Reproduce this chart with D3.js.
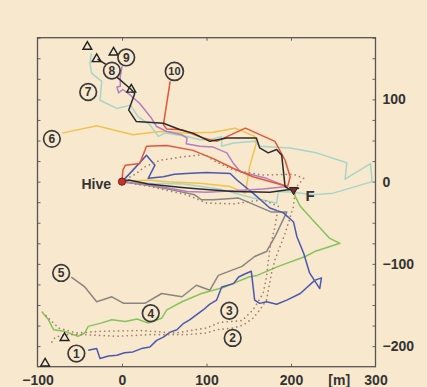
<!DOCTYPE html>
<html>
<head>
<meta charset="utf-8">
<script src="https://cdn.jsdelivr.net/npm/d3@7"></script>
<style>
  html, body { margin: 0; padding: 0; background: #f8e8cd; }
  svg { display: block; }
  text { font-family: "Liberation Sans", Arial, sans-serif; fill: #333; }
</style>
</head>
<body>
<svg id="chart" width="427" height="387"></svg>
<script>
// Flight tracks (metres east / north of the hive)
const track1 = [[0,0],[13,14],[29,32],[39,20],[31,4],[49,6],[62,9],[76,10],[100,11],[128,10],[136,2],[155,-14],[175,-32],[191,-38],[203,-49],[207,-67],[215,-87],[222,-111],[234,-130],[236,-117],[228,-120],[211,-136],[195,-144],[183,-149],[171,-146],[163,-148],[157,-144],[153,-109],[146,-112],[138,-116],[132,-124],[118,-128],[112,-144],[104,-149],[96,-156],[88,-162],[80,-168],[72,-173],[65,-180],[57,-183],[49,-189],[41,-193],[33,-201],[23,-203],[13,-207],[3,-208],[-6,-211],[-16,-212],[-26,-215],[-30,-203],[-40,-205]];
const track2 = [[0,0],[17,10],[27,18],[45,26],[71,30],[98,33],[108,26],[132,14],[167,8],[203,9],[215,4],[205,-8],[203,-30],[193,-63],[181,-95],[177,-111],[171,-144],[163,-156],[155,-166],[144,-174],[132,-178],[112,-180],[100,-184],[77,-186],[33,-186],[-6,-188],[-46,-186],[-66,-186],[-79,-189],[-83,-195]];
const track3 = [[0,0],[33,-6],[77,-16],[100,-26],[132,-27],[167,-22],[185,-30],[181,-55],[175,-81],[171,-116],[167,-136],[155,-156],[142,-169],[116,-171],[100,-178],[63,-184],[21,-181],[-26,-182],[-54,-184],[-75,-178],[-85,-168],[-93,-160]];
const track4 = [[-95,-158],[-87,-168],[-81,-180],[-68,-182],[-52,-188],[-44,-184],[-40,-176],[-25,-172],[-12,-168],[4,-170],[18,-167],[31,-172],[47,-166],[53,-156],[71,-146],[94,-136],[122,-128],[150,-116],[160,-114],[185,-103],[217,-91],[228,-85],[258,-75],[246,-69],[226,-47],[211,-30],[205,-18],[203,-12]];
const track5 = [[0,0],[29,-4],[59,-10],[86,-16],[94,-22],[108,-22],[138,-20],[177,-37],[195,-37],[181,-67],[171,-85],[157,-91],[142,-103],[114,-114],[104,-132],[88,-126],[71,-140],[47,-136],[27,-148],[2,-148],[-12,-140],[-30,-146],[-44,-128],[-60,-116]];
const track6 = [[-71,59],[-30,68],[13,57],[45,61],[77,59],[108,60],[134,65],[157,55],[159,47],[151,18],[146,-14],[128,-6],[92,-2],[53,0],[31,2],[0,0]];
const track7 = [[-36,156],[-38,144],[-36,132],[-24,122],[-26,99],[-6,89],[10,93],[19,79],[33,69],[43,55],[51,59],[77,55],[92,51],[104,51],[118,55],[118,43],[132,47],[157,49],[163,43],[199,41],[230,35],[266,23],[264,3],[294,22],[296,0],[250,-14],[226,-16],[203,-13],[185,-12],[183,-26],[155,-20],[115,-9],[73,-3],[33,-2],[0,0]];
const track8 = [[-29,149],[-18,142],[-6,127],[11,112],[15,107],[8,87],[17,73],[49,71],[69,63],[84,59],[104,49],[124,53],[159,53],[163,41],[173,35],[183,39],[189,32],[193,-6],[199,-10],[209,-8],[175,-13],[132,-12],[92,-9],[71,-7],[31,-3],[8,2],[0,0]];
const track9 = [[0,140],[-2,128],[-2,116],[-6,115],[-4,108],[1,112],[10,105],[21,95],[35,77],[41,67],[53,61],[71,57],[77,53],[76,46],[92,43],[108,42],[124,35],[132,22],[140,12],[171,4],[195,-6],[167,-9],[132,-11],[100,-13],[77,-12],[45,-6],[21,-3],[0,0]];
const track10 = [[57,122],[49,69],[53,64],[71,63],[96,53],[112,49],[146,65],[181,49],[193,26],[199,6],[196,-6],[155,6],[132,16],[108,28],[84,38],[53,44],[29,43],[21,22],[4,20],[1,14],[0,0]];

// Start / end markers
const triangles = [[-41,164],[-30,149],[-10,157],[11,112],[-68,-190],[-91,-221]];
const feeder = [203, -10];

// Axis ticks
const xLabels = [-100, 0, 100, 200, 300];
const yLabels = [-200, -100, 0, 100];
const minorY = d3.range(-200, 176, 25);
const frameX = [0, 100, 200];

const svg = d3.select("#chart");
const x = d3.scaleLinear().domain([-100, 300]).range([37.5, 375.5]);
const y = d3.scaleLinear().domain([-225, 175]).range([366.7, 37.7]);
const [x0, x1] = x.range();
const [y0, y1] = y.range();

svg.append("rect").attr("width", 427).attr("height", 387).attr("fill", "#f8e8cd");

// Frame and tick marks
function styleTicks(g) {
  g.select(".domain").remove();
  g.selectAll("line").attr("stroke", "#666").attr("stroke-width", 1);
}
svg.append("g").attr("transform", `translate(${x0},0)`)
  .call(d3.axisRight(y).tickValues(minorY).tickSize(3).tickFormat("")).call(styleTicks);
svg.append("g").attr("transform", `translate(${x1},0)`)
  .call(d3.axisLeft(y).tickValues(minorY).tickSize(3).tickFormat("")).call(styleTicks);
svg.append("g").attr("transform", `translate(0,${y1})`)
  .call(d3.axisBottom(x).tickValues(frameX).tickSize(3).tickFormat("")).call(styleTicks);
svg.append("g").attr("transform", `translate(0,${y0})`)
  .call(d3.axisTop(x).tickValues(frameX).tickSize(3).tickFormat("")).call(styleTicks);

svg.append("rect")
  .attr("x", x0).attr("y", y1).attr("width", x1 - x0).attr("height", y0 - y1)
  .attr("fill", "none").attr("stroke", "#555").attr("stroke-width", 1.3);

// Tick labels
const labelFont = g => {
  g.select(".domain").remove();
  g.selectAll("line").remove();
  g.selectAll("text").attr("fill", "#333").attr("font-size", 14).attr("font-weight", "bold")
    .attr("font-family", "'Liberation Sans', Arial, sans-serif");
};
svg.append("g").attr("transform", `translate(${x1},0)`)
  .call(d3.axisRight(y).tickValues(yLabels).tickSize(0).tickPadding(7)).call(labelFont);
svg.append("g").attr("transform", `translate(0,${y0})`)
  .call(d3.axisBottom(x).tickValues(xLabels).tickSize(0).tickPadding(8)).call(labelFont);
svg.append("text").attr("x", x(257)).attr("y", y0 + 8).attr("dy", "0.71em")
  .attr("text-anchor", "middle").attr("font-size", 14).attr("font-weight", "bold").text("[m]");

// Tracks
const line = d3.line().x(d => x(d[0])).y(d => y(d[1]));
const tracks = [
  { data: track6, color: "#f1c24c" },
  { data: track7, color: "#a7d5c8" },
  { data: track5, color: "#8a8580" },
  { data: track4, color: "#86c35c" },
  { data: track1, color: "#4a58b0" },
  { data: track9, color: "#b27fc2" },
  { data: track10, color: "#e4553a" },
  { data: track8, color: "#2b2b2b" },
];
svg.append("g").selectAll("path").data(tracks).join("path")
  .attr("d", d => line(d.data))
  .attr("fill", "none").attr("stroke", d => d.color)
  .attr("stroke-width", 1.5).attr("stroke-linejoin", "round");

svg.append("g").selectAll("path").data([track2, track3]).join("path")
  .attr("d", d => line(d))
  .attr("fill", "none").attr("stroke", "#a4806a")
  .attr("stroke-width", 1.7).attr("stroke-linecap", "round")
  .attr("stroke-dasharray", "0.1,4.5");

// Triangles
const tri = d3.symbol().type(d3.symbolTriangle).size(34);
svg.append("g").selectAll("path").data(triangles).join("path")
  .attr("d", tri)
  .attr("transform", d => `translate(${x(d[0])},${y(d[1])})`)
  .attr("fill", "none").attr("stroke", "#222").attr("stroke-width", 1.4);

// Feeder
svg.append("path").attr("d", d3.symbol().type(d3.symbolTriangle).size(30))
  .attr("transform", `translate(${x(feeder[0])},${y(feeder[1])}) rotate(180)`)
  .attr("fill", "#7a2a2a").attr("stroke", "#222").attr("stroke-width", 1);
svg.append("text").attr("x", x(feeder[0]) + 12).attr("y", y(feeder[1]) + 11)
  .attr("font-size", 15).attr("font-weight", "bold").text("F");

// Hive
svg.append("circle").attr("cx", x(0)).attr("cy", y(0)).attr("r", 3.6)
  .attr("fill", "#c8322c").attr("stroke", "#7a1a16").attr("stroke-width", 1);
svg.append("text").attr("x", x(0) - 11).attr("y", y(0) + 7)
  .attr("text-anchor", "end").attr("font-size", 14).attr("font-weight", "bold").text("Hive");

// Circled track numbers
const markers = [
  { n: "1", p: [-54, -209] }, { n: "2", p: [131, -190] }, { n: "3", p: [127, -157] },
  { n: "4", p: [34, -160] }, { n: "5", p: [-72, -111] }, { n: "6", p: [-83, 52] },
  { n: "7", p: [-40, 109] }, { n: "8", p: [-12, 135] }, { n: "9", p: [5, 151] },
  { n: "10", p: [62, 134] }
];
const mg = svg.append("g").selectAll("g").data(markers).join("g")
  .attr("transform", d => `translate(${x(d.p[0])},${y(d.p[1])})`);
mg.append("circle").attr("r", d => d.n.length > 1 ? 9 : 8.3)
  .attr("fill", "#f8e8cd").attr("stroke", "#3a3a3a").attr("stroke-width", 1.7);
mg.append("text").attr("text-anchor", "middle").attr("dy", "0.36em")
  .attr("font-size", d => d.n.length > 1 ? 11 : 12).attr("font-weight", "bold").text(d => d.n);
</script>
</body>
</html>
